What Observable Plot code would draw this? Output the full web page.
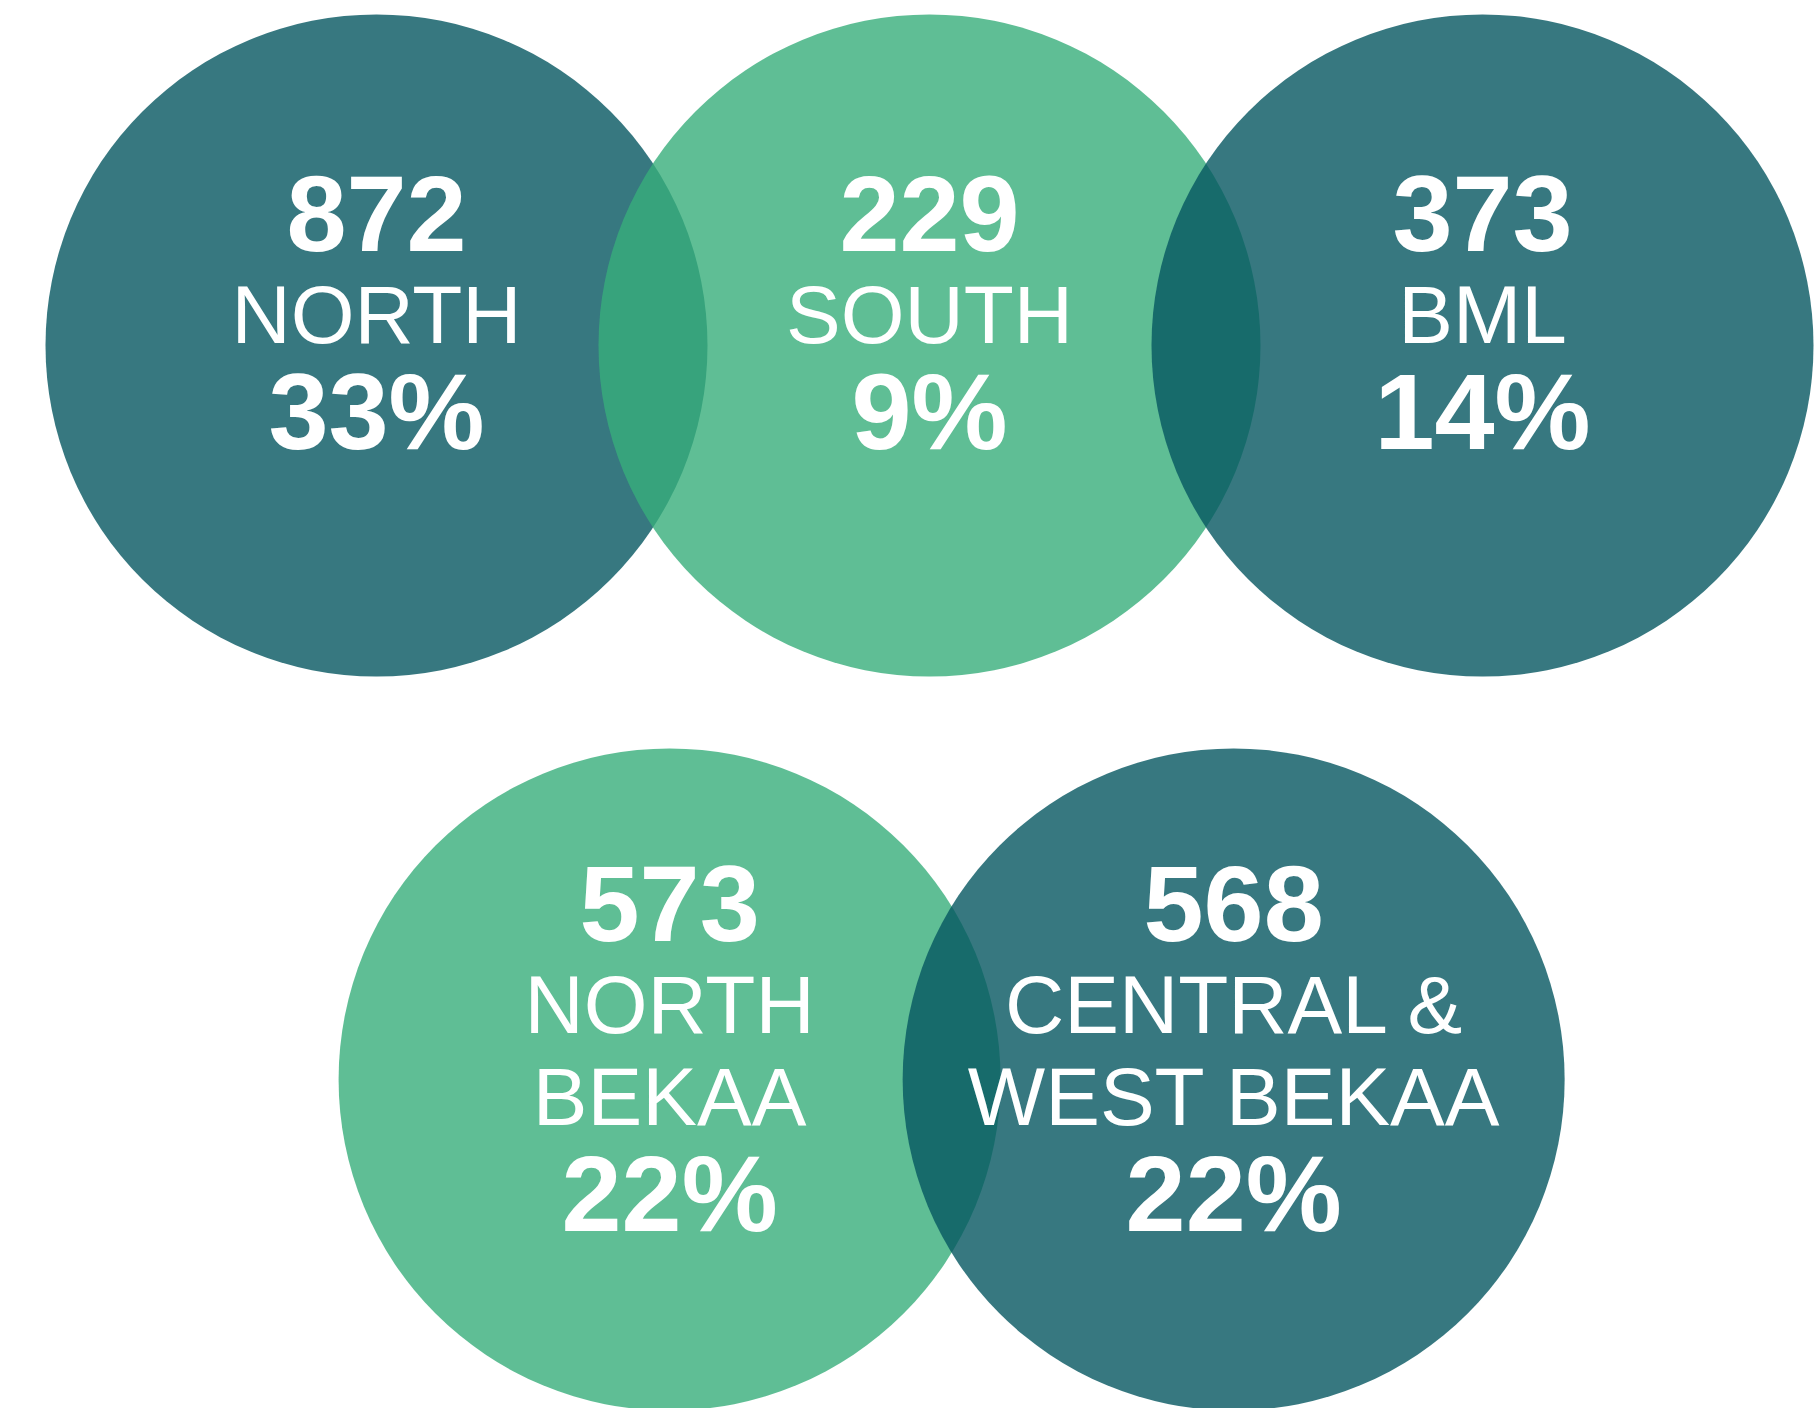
<!DOCTYPE html>
<html>
<head>
<meta charset="utf-8">
<script src="https://cdn.jsdelivr.net/npm/d3@7"></script>
<script src="https://cdn.jsdelivr.net/npm/@observablehq/plot@0.6"></script>
<style>
  html, body { margin: 0; padding: 0; background: #ffffff; overflow: hidden; }
  #chart svg { display: block; }
</style>
</head>
<body>
<div id="chart"></div>
<script>
// ---- data ----
const regions = ["NORTH", "SOUTH", "BML", "NORTH BEKAA", "CENTRAL & WEST BEKAA"];
const labelLines = [["NORTH"], ["SOUTH"], ["BML"], ["NORTH", "BEKAA"], ["CENTRAL &", "WEST BEKAA"]];
const counts = [872, 229, 373, 573, 568];
const percents = [33, 9, 14, 22, 22];
const shades = ["dark", "light", "dark", "light", "dark"];

// ---- layout (grid units, derived from index) ----
const table = regions.map((name, i) => {
  const row = i < 3 ? 0 : 1;
  const col = row === 0 ? i : 0.53 + (i - 3) * 1.02;
  return {name, lines: labelLines[i], count: counts[i], pct: percents[i] + "%", shade: shades[i], row, col};
});

const W = 1814, H = 1408;
const font = "'Liberation Sans', Arial, Helvetica, sans-serif";

const marks = [
  Plot.dot(table, {
    x: "col", y: "row", r: 331,
    fill: "shade", fillOpacity: 0.8, stroke: "none"
  })
];

table.forEach(d => {
  const n = d.lines.length;
  const base = k => -3 - (n - 1) * 44 + k * 92;
  marks.push(Plot.text([d], {
    x: "col", y: "row", text: "count", dy: base(0) - 92,
    lineAnchor: "bottom", textAnchor: "middle",
    fill: "white", fontSize: 108, fontWeight: "bold", fontFamily: font
  }));
  d.lines.forEach((line, k) => {
    marks.push(Plot.text([d], {
      x: "col", y: "row", text: () => line, dy: base(k),
      lineAnchor: "bottom", textAnchor: "middle",
      fill: "white", fontSize: 82, fontWeight: "normal", fontFamily: font
    }));
  });
  marks.push(Plot.text([d], {
    x: "col", y: "row", text: "pct", dy: base(n - 1) + 106,
    lineAnchor: "bottom", textAnchor: "middle",
    fill: "white", fontSize: 108, fontWeight: "bold", fontFamily: font
  }));
});

const chart = Plot.plot({
  width: W,
  height: H,
  margin: 0,
  x: {domain: [-376 / 553, (W - 376) / 553], range: [0, W], axis: null},
  y: {domain: [-345 / 734, (H - 345) / 734], range: [0, H], axis: null},
  color: {domain: ["dark", "light"], range: ["#055660", "#37ae7a"]},
  style: {background: "white", overflow: "hidden"},
  marks
});
document.getElementById("chart").appendChild(chart);
</script>
</body>
</html>
